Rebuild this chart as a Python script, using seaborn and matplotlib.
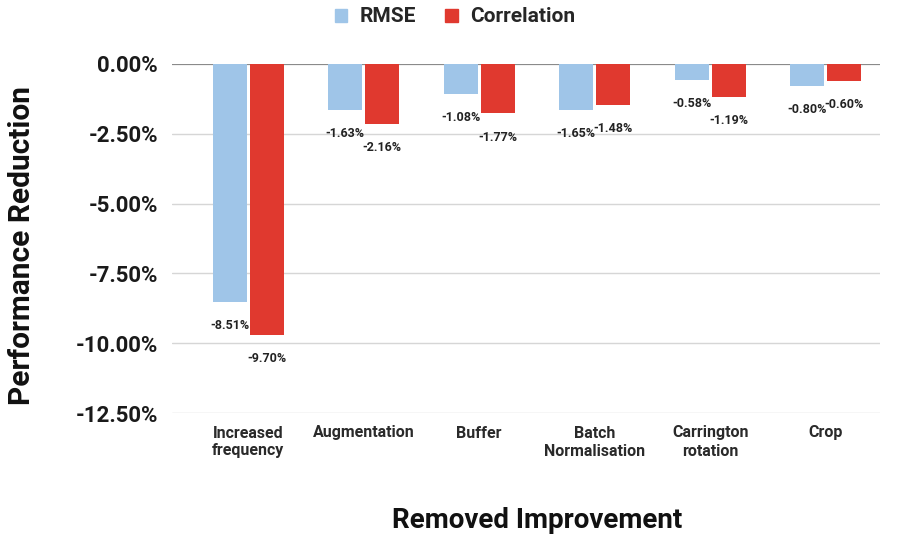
import matplotlib
matplotlib.use("Agg")
import matplotlib.pyplot as plt
import seaborn as sns
import pandas as pd

categories = ["Increased\nfrequency", "Augmentation", "Buffer",
              "Batch\nNormalisation", "Carrington\nrotation", "Crop"]
rmse = [-8.51, -1.63, -1.08, -1.65, -0.58, -0.80]
correlation = [-9.70, -2.16, -1.77, -1.48, -1.19, -0.60]
series_names = ["RMSE", "Correlation"]
yticks = [0, -2.5, -5, -7.5, -10, -12.5]

colors = {"RMSE": "#9fc5e8", "Correlation": "#e0392f"}

df = pd.DataFrame({
    "category": categories * 2,
    "series": [series_names[0]] * len(categories) + [series_names[1]] * len(categories),
    "value": rmse + correlation,
})

sns.set_theme(style="white")
plt.rcParams["font.family"] = ["Roboto", "DejaVu Sans"]

fig = plt.figure(figsize=(9.02, 5.38), dpi=100)
ax = fig.add_axes([172 / 902, 1 - 413 / 538, (880 - 172) / 902, (413 - 64) / 538])

sns.barplot(data=df, x="category", y="value", hue="series", palette=colors,
            width=0.64, gap=0.08, ax=ax, legend=False, saturation=1,
            edgecolor="none")

ax.set_ylim(-12.5, 0)
ax.set_xlim(-0.66, 5.47)
ax.set_yticks(yticks)
ax.set_yticklabels([f"{v:.2f}%" for v in yticks], fontsize=16,
                   fontweight="bold", color="#1a1a1a")
ax.set_xticks(range(len(categories)))
ax.set_xticklabels(categories, fontsize=11.5, fontweight="bold",
                   color="#2a2a2a", va="top", linespacing=1.25)
ax.tick_params(axis="both", length=0)
ax.tick_params(axis="y", pad=10)
ax.tick_params(axis="x", pad=9)
ax.set_xlabel("")
ax.set_ylabel("")
for s in ax.spines.values():
    s.set_visible(False)

ax.set_axisbelow(True)
for v in yticks:
    ax.axhline(v, color="#8a8a8a" if v == 0 else "#d6d6d6",
               lw=1.6 if v == 0 else 1.0, zorder=0)

# value labels under each bar end
for container in ax.containers:
    for bar in container:
        h = bar.get_height()
        ax.annotate(f"{h:.2f}%", (bar.get_x() + bar.get_width() / 2, h),
                    xytext=(0, -17), textcoords="offset points",
                    ha="center", va="center", fontsize=9,
                    fontweight="bold", color="#222222",
                    annotation_clip=False)

fig.text(22 / 902, 1 - 245 / 538, "Performance Reduction", rotation=90,
         ha="center", va="center", fontsize=21.5, fontweight="bold",
         color="#111111")
fig.text(537 / 902, 1 - 521 / 538, "Removed Improvement", ha="center",
         va="center", fontsize=20, fontweight="bold", color="#111111")

handles = [plt.Rectangle((0, 0), 1, 1, color=colors[n]) for n in series_names]
fig.legend(handles, series_names, loc="center", ncol=2,
           bbox_to_anchor=(455 / 902, 1 - 17 / 538), frameon=False,
           prop={"size": 15, "weight": "bold"}, handlelength=0.6,
           handleheight=0.6, handletextpad=0.6, columnspacing=1.4)

fig.savefig("out.png", dpi=100)
